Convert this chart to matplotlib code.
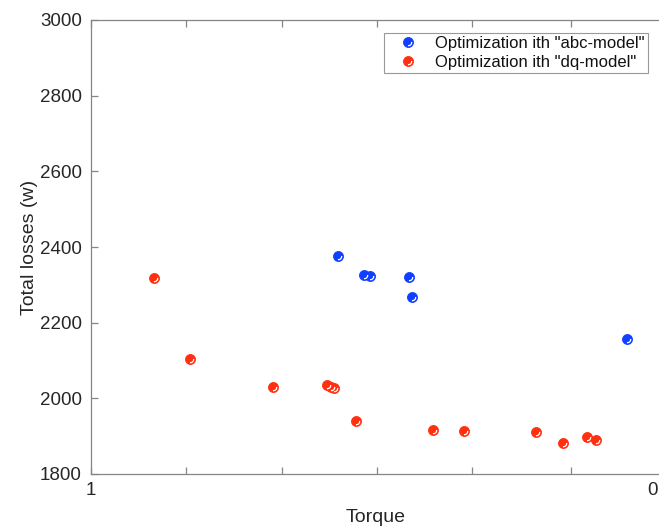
#!/usr/bin/env python3
# -*- coding: utf-8 -*-

import matplotlib
matplotlib.use("Agg")
import matplotlib.pyplot as plt
from matplotlib.path import Path
from matplotlib.lines import Line2D

# -----------------------
# Data
# -----------------------
abc_torque = [0.560, 0.514, 0.503, 0.433, 0.428, 0.044]
abc_losses = [2375, 2327, 2323, 2320, 2267, 2156]

dq_torque = [0.887, 0.824, 0.676, 0.579, 0.572, 0.567, 0.528,
             0.390, 0.336, 0.206, 0.159, 0.115, 0.099]
dq_losses = [2319, 2103, 2031, 2036, 2029, 2026, 1940,
             1915, 1913, 1911, 1881, 1898, 1890]

x_ticks = [1.0, 0.83, 0.66, 0.49, 0.32, 0.145, 0.0]
x_ticklabels = ["1", "", "", "", "", "", "0"]
y_ticks = [1800, 2000, 2200, 2400, 2600, 2800, 3000]

labels = ['Optimization ith "abc-model"', 'Optimization ith "dq-model"']
colors = ["#1040ff", "#ff3010"]

TEXT = "#262626"
AXC = "#858585"

plt.rcParams["font.family"] = ["Liberation Sans", "DejaVu Sans"]

# small white crescent, gives the markers their glossy look
crescent = Path.arc(-100, 10)


def dots(ax, x, y, color):
    ax.plot(x, y, ls="none", marker="o", ms=7.2, mfc=color, mec=color, mew=0.6,
            clip_on=False, zorder=3)
    ax.plot(x, y, ls="none", marker=crescent, ms=4.6, mfc="none", mec="white",
            mew=0.9, clip_on=False, zorder=4)


def main():
    fig = plt.figure(figsize=(6.59, 5.30), dpi=100)
    W, H = 659.0, 530.0
    left_px, right_px, top_px, bot_px = 91, 763, 20, 474
    ax = fig.add_axes([left_px / W, 1 - bot_px / H,
                       (right_px - left_px) / W, (bot_px - top_px) / H])

    dots(ax, abc_torque, abc_losses, colors[0])
    dots(ax, dq_torque, dq_losses, colors[1])

    # x runs from 1 (left) down to 0; the frame goes on past the picture edge
    ax.set_xlim(1.0, 1.0 - (right_px - left_px) / 561.0)
    ax.set_ylim(1800, 3000)
    ax.set_xticks(x_ticks)
    ax.set_xticklabels(x_ticklabels)
    ax.set_yticks(y_ticks)

    for s in ax.spines.values():
        s.set_color(AXC)
        s.set_linewidth(0.9)
    ax.tick_params(direction="in", colors=AXC, labelcolor=TEXT,
                   labelsize=13.5, length=5, width=0.9,
                   top=True, right=True)
    ax.tick_params(axis="y", pad=6.5)
    ax.tick_params(axis="x", pad=6)
    last = ax.xaxis.get_major_ticks()[-1]
    last.tick1line.set_visible(False)
    last.tick2line.set_visible(False)

    ax.set_xlabel("Torque", fontsize=14, color=TEXT)
    ax.set_ylabel("Total losses (w)", fontsize=14, color=TEXT)
    ax.xaxis.set_label_coords((376 - left_px) / (right_px - left_px), -0.077)
    ax.yaxis.set_label_coords((38 - left_px) / (right_px - left_px), 0.5)

    handles = []
    for c in colors:
        h1 = Line2D([], [], ls="none", marker="o", ms=7.2, mfc=c, mec=c, mew=0.6)
        h2 = Line2D([], [], ls="none", marker=crescent, ms=4.6, mfc="none",
                    mec="white", mew=0.9)
        handles.append((h1, h2))
    leg = ax.legend(handles, labels, loc="upper right",
                    bbox_to_anchor=(648 / W, 1 - 33 / H),
                    bbox_transform=fig.transFigure,
                    fontsize=12, fancybox=False, framealpha=1,
                    edgecolor="#999999", handlelength=2.5, handletextpad=0.4,
                    borderpad=0.2, labelspacing=0.2, borderaxespad=0)
    leg.get_frame().set_linewidth(0.8)
    for t in leg.get_texts():
        t.set_color("#111111")

    fig.savefig("out.png", dpi=100)
    plt.close(fig)


if __name__ == "__main__":
    main()
